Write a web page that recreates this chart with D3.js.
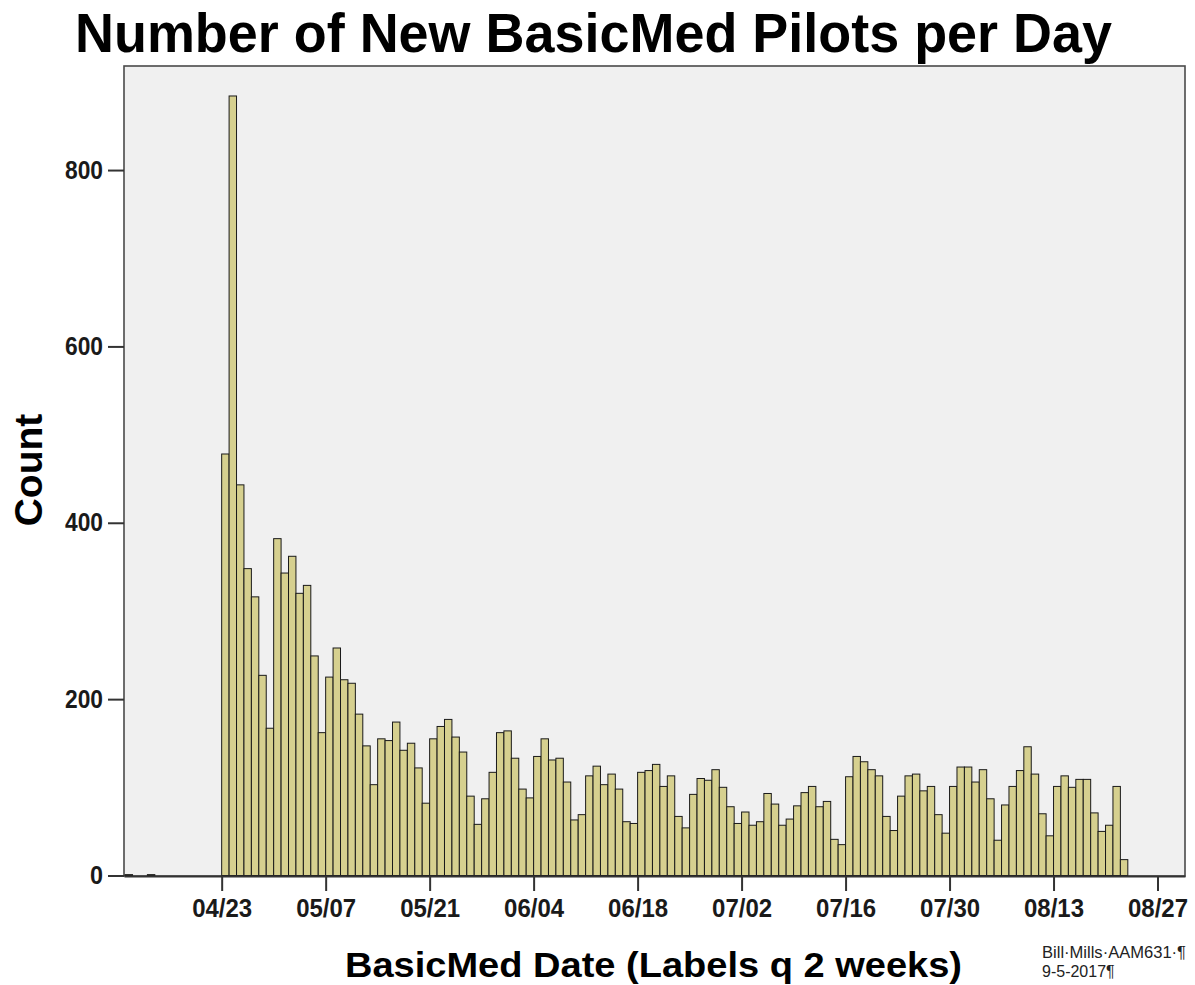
<!DOCTYPE html>
<html>
<head>
<meta charset="utf-8">
<script src="https://cdn.jsdelivr.net/npm/d3@7"></script>
<style>
  body { margin: 0; background: #fff; }
  text { font-family: "Liberation Sans", Arial, sans-serif; }
</style>
</head>
<body>
<svg id="chart" width="1195" height="985"></svg>
<script>
// first day of the daily series and the counts for each day after it
var startDay = "2017-04-23";
var dailyCounts = [
    478, 884, 443, 348, 316, 227, 167, 382, 343, 362, 320, 329, 249, 162,
    225, 258, 222, 218, 183, 147, 103, 155, 153, 174, 142, 150, 122, 82,
    155, 169, 177, 157, 140, 90, 58, 87, 117, 162, 164, 133, 98, 88,
    135, 155, 131, 133, 106, 63, 69, 113, 124, 103, 115, 98, 61, 59,
    117, 119, 126, 101, 113, 67, 54, 92, 110, 108, 120, 100, 78, 59,
    72, 57, 61, 93, 81, 57, 64, 79, 94, 101, 78, 84, 41, 35,
    112, 135, 129, 120, 113, 67, 51, 90, 113, 115, 96, 101, 69, 48,
    101, 123, 123, 106, 120, 87, 40, 80, 101, 119, 146, 115, 70, 45,
    101, 113, 100, 109, 109, 71, 50, 57, 101, 18
];
// a few stray early records
var earlyDates = ["2017-04-10", "2017-04-13"];
var earlyCounts = [1, 1];

var yTicks = [0, 200, 400, 600, 800];
var xTickDates = ["2017-04-23", "2017-05-07", "2017-05-21", "2017-06-04", "2017-06-18",
    "2017-07-02", "2017-07-16", "2017-07-30", "2017-08-13", "2017-08-27"];

var parse = d3.utcParse("%Y-%m-%d");
var fmt = d3.utcFormat("%m/%d");
var DAY = 864e5;

var bars = [];
earlyDates.forEach(function (d, i) {
    bars.push({ date: parse(d), value: earlyCounts[i] });
});
var t0 = parse(startDay);
dailyCounts.forEach(function (v, i) {
    bars.push({ date: d3.utcDay.offset(t0, i), value: v });
});

var plotLeft = 124, plotRight = 1185, plotTop = 66, plotBottom = 876;

var xScale = d3.scaleUtc()
    .domain([new Date(+t0 - 13.15 * DAY), new Date(+t0 + 129.7 * DAY)])
    .range([plotLeft, plotRight]);
var yScale = d3.scaleLinear()
    .domain([0, 918])
    .range([875.5, plotTop]);

var svg = d3.select("#chart");

// plot background
svg.append("rect")
    .attr("x", plotLeft)
    .attr("y", plotTop)
    .attr("width", plotRight - plotLeft)
    .attr("height", plotBottom - plotTop)
    .attr("fill", "#f0f0f0")
    .attr("stroke", "#4a4a4a")
    .attr("stroke-width", 1.6);

svg.append("g")
    .selectAll("rect")
    .data(bars)
    .enter()
    .append("rect")
    .attr("x", function (d) { return xScale(d.date); })
    .attr("y", function (d) { return yScale(d.value); })
    .attr("width", function (d) { return xScale(d3.utcDay.offset(d.date, 1)) - xScale(d.date); })
    .attr("height", function (d) { return yScale(0) - yScale(d.value); })
    .attr("fill", "#d6d08f")
    .attr("stroke", "#1a1a1a")
    .attr("stroke-width", 1);

// x axis
var xAxis = d3.axisBottom(xScale)
    .tickValues(xTickDates.map(parse))
    .tickFormat(fmt)
    .tickSizeInner(15)
    .tickSizeOuter(0)
    .tickPadding(8);

var gx = svg.append("g")
    .attr("transform", "translate(0," + plotBottom + ")")
    .call(xAxis);
gx.select(".domain").attr("stroke", "#333").attr("stroke-width", 2);
gx.selectAll(".tick line").attr("stroke", "#333").attr("stroke-width", 2);
gx.selectAll(".tick text")
    .attr("fill", "#1a1a1a")
    .style("font-size", "25px")
    .style("font-weight", "bold")
    .attr("textLength", 60)
    .attr("lengthAdjust", "spacingAndGlyphs");

// y axis
var yAxis = d3.axisLeft(yScale)
    .tickValues(yTicks)
    .tickSize(16)
    .tickPadding(5);

var gy = svg.append("g")
    .attr("transform", "translate(" + plotLeft + ",0)")
    .call(yAxis);
gy.select(".domain").remove();
gy.selectAll(".tick line").attr("stroke", "#333").attr("stroke-width", 2);
gy.selectAll(".tick text")
    .attr("fill", "#1a1a1a")
    .style("font-size", "25px")
    .style("font-weight", "bold")
    .attr("textLength", function (d) { return d === 0 ? 13 : 38; })
    .attr("lengthAdjust", "spacingAndGlyphs");

// titles
svg.append("text")
    .attr("x", 75)
    .attr("y", 52)
    .attr("textLength", 1037)
    .attr("lengthAdjust", "spacingAndGlyphs")
    .style("font-size", "56px")
    .style("font-weight", "bold")
    .text("Number of New BasicMed Pilots per Day");

svg.append("text")
    .attr("x", 345)
    .attr("y", 977)
    .attr("textLength", 617)
    .attr("lengthAdjust", "spacingAndGlyphs")
    .style("font-size", "35px")
    .style("font-weight", "bold")
    .text("BasicMed Date (Labels q 2 weeks)");

svg.append("text")
    .attr("transform", "translate(42,470) rotate(-90)")
    .attr("text-anchor", "middle")
    .style("font-size", "39px")
    .style("font-weight", "bold")
    .text("Count");

// signature note
svg.append("text")
    .attr("x", 1042)
    .attr("y", 958)
    .attr("textLength", 144)
    .attr("lengthAdjust", "spacingAndGlyphs")
    .attr("fill", "#222")
    .style("font-size", "16px")
    .text("Bill\u00b7Mills\u00b7AAM631\u00b7\u00b6");

svg.append("text")
    .attr("x", 1042)
    .attr("y", 977)
    .attr("fill", "#222")
    .style("font-size", "16px")
    .text("9-5-2017\u00b6");
</script>
</body>
</html>
